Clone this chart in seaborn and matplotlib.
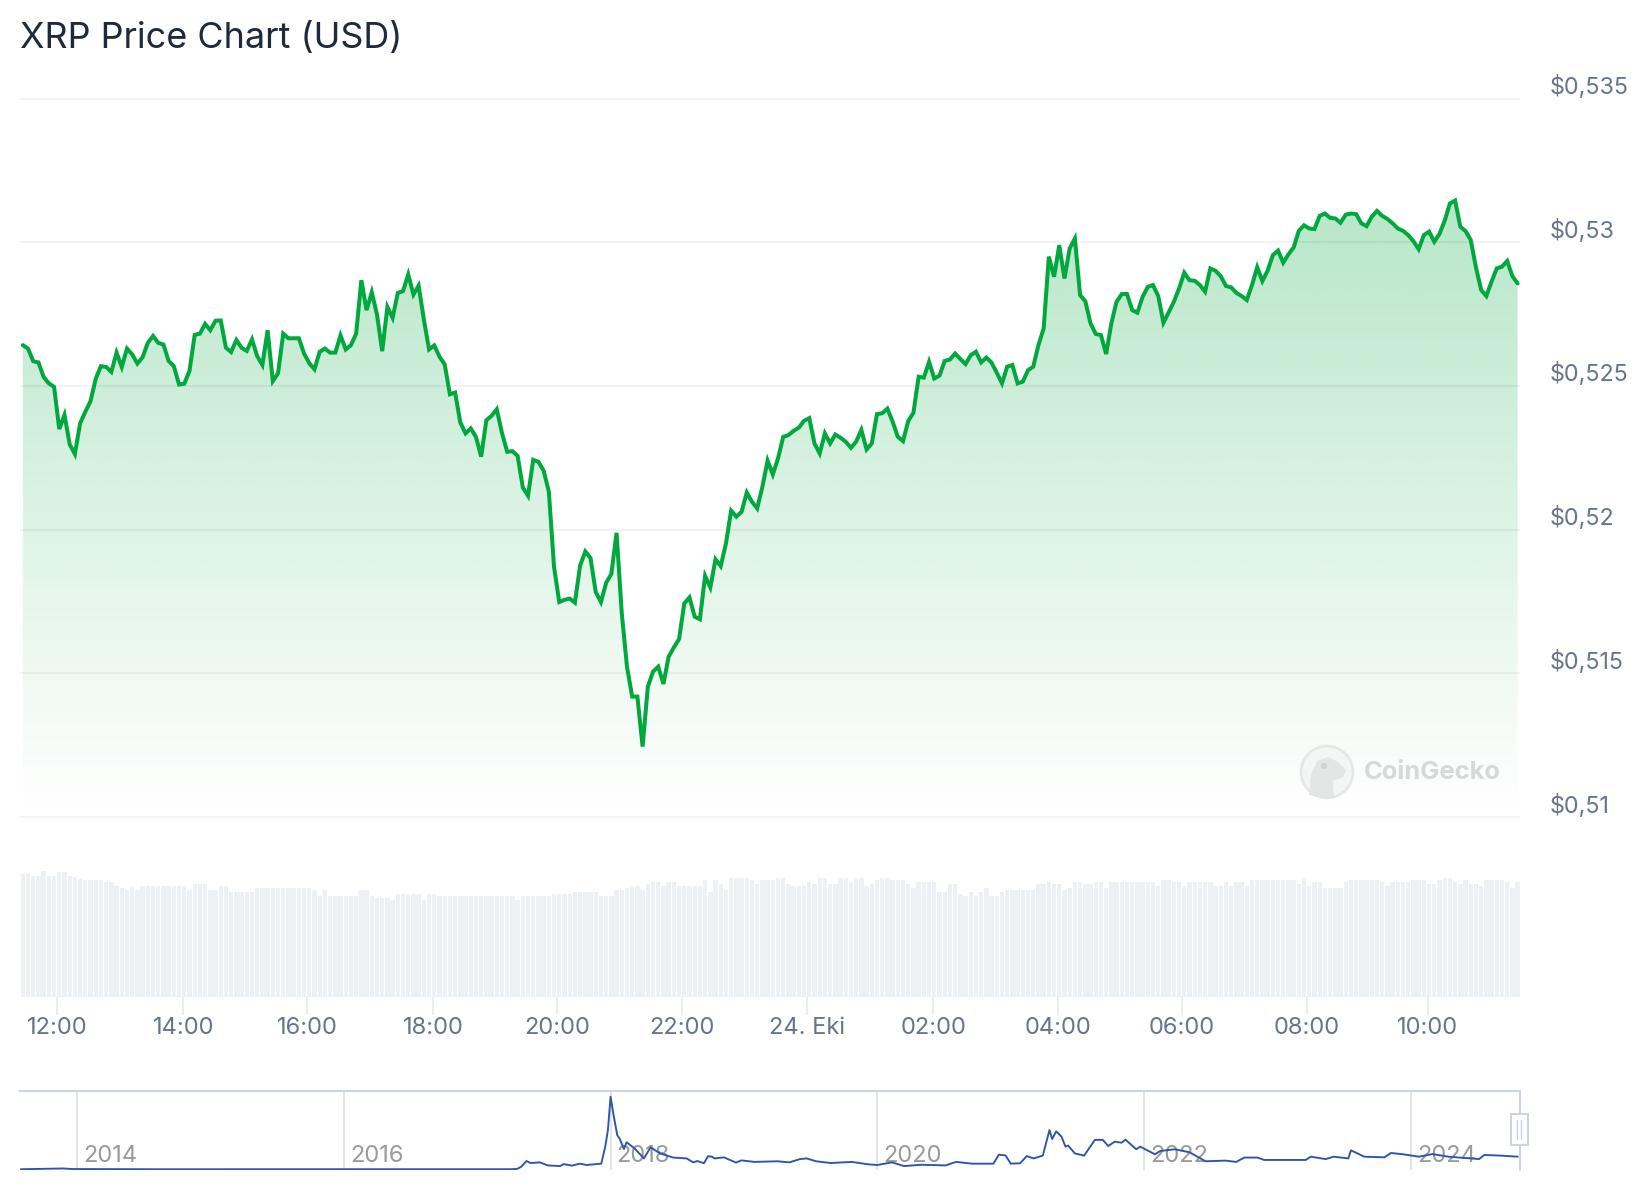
import numpy as np
import pandas as pd
import matplotlib
matplotlib.use("Agg")
import matplotlib.pyplot as plt
from matplotlib.patches import Circle, Ellipse, Rectangle, Polygon
from matplotlib.transforms import ScaledTranslation
import seaborn as sns

sns.set_theme(style="white")
plt.rcParams["font.family"] = ["Inter", "DejaVu Sans"]

TITLE = "XRP Price Chart (USD)"

price = [
 .52642,.52630,.52586,.52582,.52531,.52509,.52497,.52350,.52399,.52297,.52263,.52370,.52410,.52447,.52525,.52569,
 .52566,.52549,.52616,.52566,.52630,.52610,.52578,.52600,.52650,.52674,.52650,.52644,.52587,.52569,.52505,.52508,
 .52552,.52678,.52682,.52716,.52694,.52727,.52728,.52633,.52618,.52660,.52633,.52622,.52662,.52604,.52573,.52694,
 .52517,.52544,.52682,.52666,.52666,.52666,.52613,.52579,.52558,.52619,.52630,.52616,.52616,.52676,.52627,.52642,.52682,
 .52868,.52764,.52826,.52749,.52621,.52775,.52737,.52824,.52830,.52888,.52818,.52849,.52731,.52627,.52641,.52602,
 .52575,.52471,.52477,.52373,.52335,.52352,.52323,.52254,.52381,.52396,.52419,.52336,.52271,.52273,.52257,.52147,
 .52118,.52243,.52236,.52205,.52132,.51869,.51748,.51756,.51760,.51746,.51875,.51924,.51901,.51783,.51748,.51815,
 .51846,.51989,.51709,.51523,.51419,.51419,.51245,.51453,.51506,.51523,.51463,.51558,.51590,.51619,.51743,.51764,
 .51697,.51688,.51839,.51799,.51897,.51873,.51952,.52066,.52045,.52062,.52129,.52097,.52074,.52149,.52240,.52192,
 .52248,.52323,.52329,.52344,.52355,.52379,.52388,.52300,.52265,.52335,.52300,.52331,.52320,.52306,.52285,.52306,
 .52347,.52279,.52300,.52402,.52405,.52421,.52376,.52323,.52308,.52378,.52407,.52532,.52529,.52584,.52526,.52536,
 .52587,.52592,.52613,.52594,.52576,.52607,.52619,.52582,.52599,.52581,.52546,.52509,.52567,.52573,.52509,.52515,
 .52555,.52567,.52642,.52700,.52950,.52880,.52990,.52874,.52979,.53013,.52816,.52795,.52718,.52681,.52677,.52611,
 .52718,.52793,.52820,.52820,.52764,.52755,.52810,.52845,.52851,.52813,.52720,.52756,.52793,.52839,.52894,.52868,
 .52866,.52851,.52828,.52909,.52901,.52882,.52848,.52843,.52824,.52813,.52799,.52851,.52913,.52865,.52901,.52955,
 .52971,.52929,.52958,.52982,.53040,.53059,.53048,.53046,.53092,.53100,.53085,.53083,.53068,.53096,.53100,.53098,
 .53066,.53056,.53089,.53109,.53092,.53081,.53066,.53048,.53040,.53025,.53004,.52976,.53025,.53037,.53002,.53029,
 .53075,.53135,.53145,.53054,.53039,.53008,.52913,.52834,.52813,.52863,.52909,.52915,.52935,.52882,.52857,
]

volume = [
 123,123,121,121,126,121,121,125,125,121,120,118,117,117,117,117,115,115,111,109,107,110,107,111,111,111,111,111,111,111,111,111,
 107,113,113,113,107,107,111,111,105,105,105,105,105,109,109,109,109,109,109,109,109,109,109,109,107,101,107,101,101,101,101,101,
 101,107,107,101,99,99,99,97,103,103,103,103,103,97,103,103,101,101,101,101,101,101,101,101,101,101,101,101,101,101,101,97,
 101,101,101,101,101,101,103,103,103,103,105,105,105,105,105,101,101,101,107,107,109,111,111,107,113,115,115,111,115,115,111,111,
 111,111,111,117,105,117,113,107,119,119,119,119,117,113,117,117,117,119,119,113,111,111,111,115,113,119,119,113,113,119,119,115,
 119,119,111,113,117,119,119,117,117,117,113,109,115,115,115,115,105,105,113,113,103,101,105,101,105,109,101,101,105,107,107,107,
 107,107,107,113,113,115,113,113,107,109,115,115,113,113,115,115,109,115,115,115,115,115,115,115,115,115,111,117,117,115,115,111,
 115,115,115,115,115,111,111,115,111,115,115,111,117,117,117,117,117,117,117,117,117,113,119,111,115,115,109,109,109,109,115,117,
 117,117,117,117,117,115,111,115,115,115,115,117,117,117,113,113,117,119,119,115,113,117,113,113,111,117,117,117,117,115,109,115,
]

history_year = [
 2013.58,2013.90,2013.96,2014.57,2017.25,2017.30,2017.33,2017.37,2017.40,2017.47,2017.53,2017.62,2017.65,2017.71,2017.77,2017.82,
 2017.93,2017.96,2017.98,2018.00,2018.02,2018.05,2018.07,2018.10,2018.12,2018.18,2018.25,2018.30,2018.37,2018.47,2018.57,2018.62,
 2018.65,2018.70,2018.73,2018.76,2018.78,2018.85,2018.94,2018.98,2019.08,2019.25,2019.34,2019.42,2019.47,2019.54,2019.65,2019.81,
 2019.93,2020.00,2020.11,2020.20,2020.33,2020.51,2020.59,2020.71,2020.87,2020.91,2020.96,2021.00,2021.07,2021.12,2021.17,2021.24,
 2021.29,2021.31,2021.34,2021.38,2021.41,2021.43,2021.48,2021.55,2021.63,2021.69,2021.73,2021.78,2021.83,2021.86,2021.94,2021.97,
 2022.08,2022.12,2022.23,2022.34,2022.46,2022.61,2022.69,2022.75,2022.85,2022.90,2023.05,2023.21,2023.25,2023.36,2023.42,2023.53,
 2023.55,2023.65,2023.80,2023.85,2023.94,2024.06,2024.16,2024.28,2024.51,2024.55,2024.67,2024.80,
]
history_price = [
 .005,.04,.015,.005,.006,.02,.12,.38,.29,.32,.18,.15,.24,.17,.26,.20,
 .26,1.04,1.80,3.33,2.57,1.57,1.38,.93,1.24,.96,.50,1.01,.73,.54,.50,.32,
 .38,.28,.60,.58,.50,.55,.31,.41,.34,.37,.32,.47,.50,.37,.29,.34,
 .23,.20,.32,.15,.21,.18,.34,.26,.26,.67,.64,.26,.28,.61,.50,.63,
 1.80,1.39,1.74,1.50,1.04,1.09,.73,.63,1.35,1.35,1.07,1.27,1.22,1.36,.92,1.04,
 .69,.84,.92,.78,.37,.40,.34,.54,.54,.43,.43,.43,.58,.47,.58,.50,
 .87,.58,.55,.75,.69,.58,.70,.58,.47,.66,.63,.58,
]

y_ticks = [0.51, 0.515, 0.52, 0.525, 0.53, 0.535]
y_labels = ["$0,51", "$0,515", "$0,52", "$0,525", "$0,53", "$0,535"]
x_ticks = [0.0, 2.02, 4.0, 6.02, 8.0, 10.0, 12.0, 14.02, 16.02, 18.0, 20.0, 21.93]
x_labels = ["12:00", "14:00", "16:00", "18:00", "20:00", "22:00", "24. Eki",
            "02:00", "04:00", "06:00", "08:00", "10:00"]
history_ticks = [2014, 2016, 2018, 2020, 2022, 2024]

assert len(price) == 288 and len(volume) == 288 and len(history_year) == len(history_price)

W, H = 1644, 1200
fig = plt.figure(figsize=(W / 100, H / 100), dpi=100, facecolor="white")


def box(x0, y0, x1, y1):
    return fig.add_axes([x0 / W, 1 - y1 / H, (x1 - x0) / W, (y1 - y0) / H])


PX = 72 / 100  # points per pixel
GREEN = "#00a83e"
TICK = "#677489"
hours = -0.547 + np.arange(288) / 12
xlim = (-0.592, 23.408)
frame = pd.DataFrame({"hours": hours, "price": price, "volume": volume})

# ---- price panel
ax = box(20, 97.6, 1520, 818)
ax.set_facecolor("none")
sns.lineplot(data=frame, x="hours", y="price", color=GREEN, lw=4 * PX, ax=ax,
             estimator=None, errorbar=None, zorder=4, solid_joinstyle="miter")
ylim = (0.51 - 1 / 28740, 0.535 + 1 / 28740)
top = 0.5315
poly = ax.fill_between(hours, price, ylim[0], facecolor="none", edgecolor="none")
grad = np.zeros((256, 1, 4))
grad[..., 0], grad[..., 1], grad[..., 2] = 0 / 255, 168 / 255, 62 / 255
grad[:, 0, 3] = np.linspace(0.285, 0, 256)
im = ax.imshow(grad, extent=(xlim[0], xlim[1], 0.51, top), aspect="auto", origin="upper",
               zorder=1, interpolation="bilinear")
im.set_clip_path(poly.get_paths()[0], transform=ax.transData)
ax.set_xlim(xlim)
ax.set_ylim(ylim)
ax.set_xticks([])
ax.set_xlabel("")
ax.set_ylabel("")
ax.set_yticks(y_ticks, y_labels)
ax.yaxis.tick_right()
ax.tick_params(axis="y", length=0, pad=30 * PX, labelsize=16.8, labelcolor=TICK)
plt.setp(ax.get_yticklabels(), va="bottom", ha="left")
for lab in ax.get_yticklabels():
    lab.set_transform(lab.get_transform() + ScaledTranslation(0, -0.5 / 100, fig.dpi_scale_trans))
ax.grid(axis="y", color="black", alpha=0.06, lw=1.6 * PX, zorder=2)
ax.set_axisbelow(False)
sns.despine(ax=ax, left=True, bottom=True, right=True, top=True)
ax.set_title(TITLE, loc="left", fontsize=25.9, color="#1f2a3a", pad=36)

# ---- volume panel
vax = box(20, 863, 1520, 997)
vax.set_facecolor("none")
sns.barplot(data=frame, x="hours", y="volume", native_scale=True, color="#edf1f5", saturation=1,
            width=0.84, errorbar=None, ax=vax, linewidth=0)
vax.set_xlim(xlim)
vax.set_ylim(0, 134)
vax.set_yticks([])
vax.set_xlabel("")
vax.set_ylabel("")
vax.set_xticks(x_ticks, x_labels)
vax.tick_params(axis="x", length=18 * PX, width=1.6 * PX, color="#e6e9ee", pad=1.5 * PX,
                labelsize=17, labelcolor=TICK, bottom=True)
sns.despine(ax=vax, left=True, bottom=True, right=True, top=True)
vax.axhline(0, color="#edf1f5", lw=3 * PX, xmin=(22 - 20) / 1500)

# ---- navigator panel
nax = box(20, 1091, 1520, 1170)
nax.set_facecolor("none")
sns.lineplot(x=history_year, y=history_price, color="#2f55a8", lw=1.9 * PX, ax=nax,
             estimator=None, errorbar=None, zorder=4)
nax.set_xlim(2013.573, 2024.817)
nax.set_ylim(-0.03, 3.59)
nax.set_yticks([])
nax.set_xticks(history_ticks, [str(y) for y in history_ticks])
nax.tick_params(axis="x", length=0, pad=-25 * PX, labelsize=17, labelcolor="#9a9a9a")
for lab in nax.get_xticklabels():
    lab.set_ha("left")
    lab.set_transform(lab.get_transform() + ScaledTranslation(6 / 100, 0, fig.dpi_scale_trans))
nax.grid(axis="x", color="#e1e4e9", lw=2 * PX, zorder=1)
nax.set_axisbelow(True)
for side in ("left", "bottom"):
    nax.spines[side].set_visible(False)
for side in ("top", "right"):
    nax.spines[side].set_visible(True)
    nax.spines[side].set_color("#cbd5e1")
    nax.spines[side].set_linewidth(2 * PX)

# ---- overlay: navigator handle and watermark, in pixel coordinates
over = fig.add_axes([0, 0, 1, 1], facecolor="none")
over.set_xlim(0, W)
over.set_ylim(H, 0)
over.axis("off")
over.add_patch(Rectangle((1511, 1114), 16.5, 31, fc="white", ec="#cbd5e1", lw=2 * PX, zorder=5))
for lx in (1517, 1521):
    over.plot([lx, lx], [1120, 1139], color="#cbd5e1", lw=1.4 * PX, zorder=6)
over.add_patch(Circle((1327, 772), 26, fc="#f4f6f5", ec="#e5e7e7", lw=2.5 * PX, zorder=5))
gecko = Polygon([(1309, 795), (1311, 775), (1317, 761), (1328, 757), (1338, 762), (1346, 770),
                 (1343, 777), (1333, 781), (1334, 797), (1322, 798)],
                fc="#e4e6e6", ec="none", zorder=6)
over.add_patch(gecko)
over.add_patch(Ellipse((1324, 766), 6, 6, fc="#cfd2d2", ec="none", zorder=7))
over.text(1364, 772.5, "CoinGecko", fontsize=18.4, fontweight="bold", color="#d6d8d9",
          va="center", ha="left", zorder=6)

fig.savefig("out.png", dpi=100)
